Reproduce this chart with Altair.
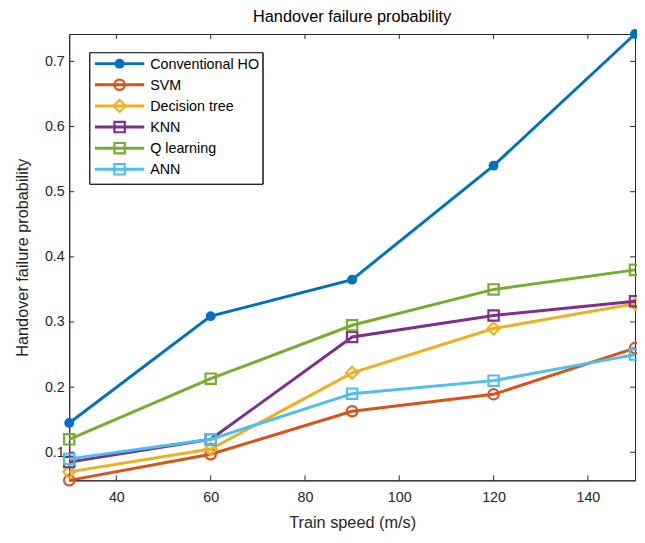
import altair as alt
import pandas as pd

speeds = [30, 60, 90, 120, 150]
series_names = ["Conventional HO", "SVM", "Decision tree", "KNN", "Q learning", "ANN"]
ho_vals = [0.145, 0.309, 0.365, 0.540, 0.742]
svm_vals = [0.057, 0.097, 0.163, 0.189, 0.260]
dt_vals = [0.070, 0.105, 0.222, 0.290, 0.328]
knn_vals = [0.085, 0.120, 0.277, 0.310, 0.332]
ql_vals = [0.120, 0.213, 0.295, 0.350, 0.380]
ann_vals = [0.090, 0.120, 0.190, 0.210, 0.250]
x_ticks = [40, 60, 80, 100, 120, 140]
y_ticks = [0.1, 0.2, 0.3, 0.4, 0.5, 0.6, 0.7]

colors = ["#0072BD", "#D95319", "#EDB120", "#7E2F8E", "#77AC30", "#4DBEEE"]
shapes = ["circle", "circle", "diamond", "square", "square", "square"]
filled = [True, False, False, False, False, False]
all_vals = [ho_vals, svm_vals, dt_vals, knn_vals, ql_vals, ann_vals]

W, H = 573, 452
FONT = "Liberation Sans"
AX = "#262626"
LW = 3

ymin = min(min(v) for v in all_vals)
ymax = max(max(v) for v in all_vals)
xscale = alt.Scale(domain=[speeds[0], speeds[-1]], nice=False, zero=False)
yscale = alt.Scale(domain=[ymin, ymax], nice=False, zero=False)
xaxis = alt.Axis(values=x_ticks, format="d", ticks=False, grid=False, labelPadding=10, titlePadding=11)
yaxis = alt.Axis(values=y_ticks, format=".1f", ticks=False, grid=False, labelPadding=5, titlePadding=14)
XT = "Train speed (m/s)"
YT = "Handover failure probability"


def X():
    return alt.X("speed:Q", scale=xscale, axis=xaxis, title=XT)


def Y():
    return alt.Y("value:Q", scale=yscale, axis=yaxis, title=YT)


def marker(base, shp, fl, col):
    if fl:
        return base.mark_point(shape=shp, size=100, filled=True, color=col, opacity=1, clip=False)
    return base.mark_point(shape=shp, size=110 if shp != "diamond" else 150, filled=False,
                           color=col, strokeWidth=2.2, opacity=1, clip=False)


layers = []
for name, vals, col, shp, fl in zip(series_names, all_vals, colors, shapes, filled):
    df = pd.DataFrame({"speed": speeds, "value": vals, "series": name})
    base = alt.Chart(df)
    layers.append(base.mark_line(color=col, strokeWidth=LW, clip=False).encode(x=X(), y=Y()))
    layers.append(marker(base, shp, fl, col).encode(x=X(), y=Y()))

# inward ticks on all four sides (MATLAB box style)
xt_df = pd.DataFrame({"speed": x_ticks})
yt_df = pd.DataFrame({"value": y_ticks})
layers.append(alt.Chart(xt_df).mark_rule(color=AX, strokeWidth=1).encode(
    x=X(), y=alt.value(H), y2=alt.value(H - 5)))
layers.append(alt.Chart(xt_df).mark_rule(color=AX, strokeWidth=1).encode(
    x=X(), y=alt.value(0), y2=alt.value(5)))
layers.append(alt.Chart(yt_df).mark_rule(color=AX, strokeWidth=1).encode(
    y=Y(), x=alt.value(0), x2=alt.value(5)))
layers.append(alt.Chart(yt_df).mark_rule(color=AX, strokeWidth=1).encode(
    y=Y(), x=alt.value(W), x2=alt.value(W - 5)))

# legend box
leg_df = pd.DataFrame({"series": series_names})
layers.append(alt.Chart(leg_df).mark_rect(fill="white", stroke=AX, strokeWidth=1).encode(
    x=alt.value(21), x2=alt.value(196), y=alt.value(19), y2=alt.value(152)))
for i, (name, col, shp, fl) in enumerate(zip(series_names, colors, shapes, filled)):
    yy = 30 + i * 21.4
    one = alt.Chart(pd.DataFrame({"series": [name]}))
    layers.append(one.mark_rule(color=col, strokeWidth=LW).encode(
        x=alt.value(26), x2=alt.value(76), y=alt.value(yy)))
    layers.append(marker(one, shp, fl, col).encode(x=alt.value(51), y=alt.value(yy)))
    layers.append(one.mark_text(align="left", baseline="middle", font=FONT, fontSize=14.5,
                                color="#000000").encode(
        x=alt.value(82), y=alt.value(yy + 1), text="series:N"))

chart = alt.layer(*layers).properties(
    width=W, height=H,
    autosize=alt.AutoSizeParams(type="none"),
    padding={"left": 62, "top": 23, "right": 2, "bottom": 52},
    title=alt.TitleParams("Handover failure probability", font=FONT, fontSize=16.5,
                          fontWeight="normal", color="#000000", offset=3, anchor="middle"),
).configure_view(stroke=AX, strokeWidth=1).configure_axis(
    labelFont=FONT, labelFontSize=14.5, labelColor=AX,
    titleFont=FONT, titleFontSize=16.5, titleFontWeight="normal", titleColor=AX,
    domainColor=AX, domainWidth=1,
)

chart.save("out.html", embed_options={"renderer": "svg", "actions": False})
